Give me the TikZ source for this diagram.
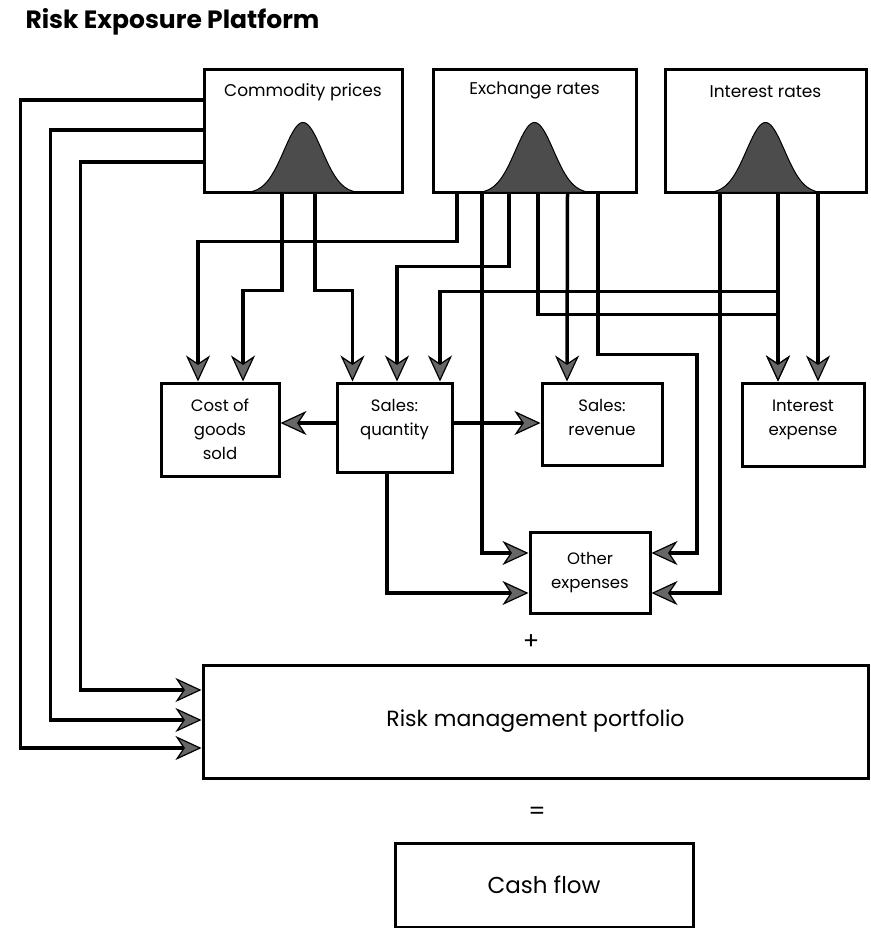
\documentclass[tikz,border=0pt]{standalone}
\usepackage{fontspec}
\setmainfont{Poppins}
\usetikzlibrary{arrows.meta, calc}

\begin{document}
\begin{tikzpicture}[
  x=1pt, y=-1pt,
  >={Stealth[length=26pt, width=24pt, inset=8pt, fill=black!60, line width=1.2pt]},
  box/.style={draw, line width=3pt, inner sep=0pt, align=center,
    font=\fontsize{16.5}{24}\selectfont},
  head/.style={font=\fontsize{17}{20}\selectfont},
  bell/.style={draw=black, line width=1pt, fill=black!70},
  flow/.style={->, line width=3.5pt, line join=miter}
]
\useasboundingbox (0,0) rectangle (870,928);

% Title
\node[anchor=base west, font=\fontsize{25}{28}\selectfont\bfseries] (title) at (22,29) {Risk Exposure Platform};

% Risk drivers
\node[box, minimum width=198pt, minimum height=122pt] (comm) at (303,131) {};
\node[box, minimum width=203pt, minimum height=122pt] (exch) at (534.5,131) {};
\node[box, minimum width=201pt, minimum height=122pt] (intr) at (765.5,131) {};
\node[head] (comm-lbl) at ($(comm.north)+(0,24)$) {Commodity prices};
\node[head] (exch-lbl) at ($(exch.north)+(0,22)$) {Exchange rates};
\node[head] (intr-lbl) at ($(intr.north)+(0,23)$) {Interest rates};
\foreach \src in {comm, exch, intr} {
  \draw[bell, shift={(\src.south)}]
    plot[domain=-54:54, samples=61, smooth] ({\x},{-71*exp(-0.5*(\x/19)*(\x/19))}) -- cycle;
}

% Exposures
\node[box, minimum width=118pt, minimum height=93pt] (cogs) at (220,429.5) {Cost of\\goods\\sold};
\node[box, minimum width=115pt, minimum height=89pt] (sqty) at (394.5,427.5) {Sales:\\quantity\\[-4pt]};
\node[box, minimum width=120pt, minimum height=82pt] (srev) at (602,424) {Sales:\\revenue\\[-11pt]};
\node[box, minimum width=122pt, minimum height=83pt] (iexp) at (803,424.5) {Interest\\expense\\[-10pt]};
\node[box, minimum width=120pt, minimum height=81pt] (oexp) at (590,572.5) {Other\\expenses};

% Totals
\node[font=\fontsize{24}{24}\selectfont] (plus) at (531,642) {+};
\node[box, minimum width=665pt, minimum height=113pt, font=\fontsize{22}{24}\selectfont] (rmp) at (535.5,721.5) {Risk management portfolio};
\node[font=\fontsize{24}{24}\selectfont] (eq) at (537,813) {=};
\node[box, minimum width=298pt, minimum height=84pt, font=\fontsize{23}{24}\selectfont] (cash) at (544,885) {Cash flow};

% Commodity prices
\draw[flow] ($(comm.south)+(-21,0)$) -- ++(0,97) -| ($(cogs.north)+(23,0)$);
\draw[flow] ($(comm.south)+(12,0)$) -- ++(0,97) -| ($(sqty.north)+(-42,0)$);
\draw[flow] ($(comm.west)+(0,-31)$) -| ($(rmp.west)+(-181,26.5)$) -- ($(rmp.west)+(0,26.5)$);
\draw[flow] ($(comm.west)+(0,-1)$) -| ($(rmp.west)+(-151,-1.5)$) -- ($(rmp.west)+(0,-1.5)$);
\draw[flow] ($(comm.west)+(0,31)$) -| ($(rmp.west)+(-121,-31.5)$) -- ($(rmp.west)+(0,-31.5)$);

% Exchange rates
\draw[flow] ($(exch.south)+(-77.5,0)$) -- ++(0,48) -| ($(cogs.north)+(-22,0)$);
\draw[flow] ($(exch.south)+(-52.5,0)$) |- ($(oexp.west)+(0,-19.5)$);
\draw[flow] ($(exch.south)+(-25.5,0)$) -- ++(0,73) -| ($(sqty.north)+(2.5,0)$);
\draw[flow] ($(exch.south)+(3.5,0)$) -- ++(0,121) -| ($(iexp.north)+(-25,0)$);
\draw[flow] ($(exch.south)+(33,0)$) -- ($(srev.north)+(-35,0)$);
\draw[flow] ($(exch.south)+(63.5,0)$) -- ++(0,161) -- ++(99,0) |- ($(oexp.east)+(0,-19.5)$);

% Interest rates
\draw[flow] ($(intr.south)+(-45.5,0)$) |- ($(oexp.east)+(0,20.5)$);
\draw[flow] ($(intr.south)+(12.5,0)$) -- ($(iexp.north)+(-25,0)$);
\draw[flow] ($(intr.south)+(12.5,0)$) -- ++(0,98) -| ($(sqty.north)+(45.5,0)$);
\draw[flow] ($(intr.south)+(52.5,0)$) -- ($(iexp.north)+(15,0)$);

% Sales quantity
\draw[flow] ($(sqty.west)+(0,-4.5)$) -- ($(cogs.east)+(0,-6.5)$);
\draw[flow] ($(sqty.east)+(0,-4.5)$) -- ($(srev.west)+(0,-1)$);
\draw[flow] ($(sqty.south)+(-7.5,0)$) |- ($(oexp.west)+(0,20.5)$);

\end{tikzpicture}
\end{document}
